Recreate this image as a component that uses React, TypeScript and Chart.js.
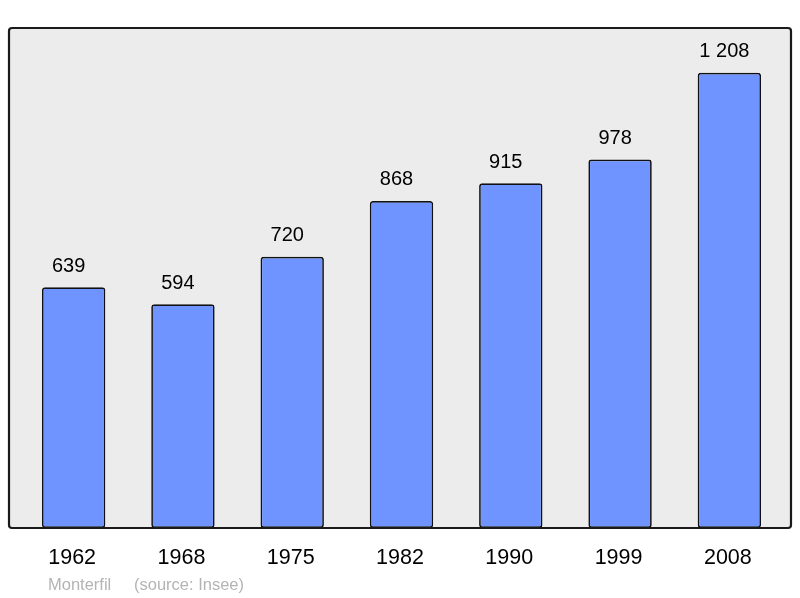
import React, { useEffect, useRef } from "react";
import { Chart, registerables } from "chart.js";

Chart.register(...registerables);

const years = ["1962", "1968", "1975", "1982", "1990", "1999", "2008"];
const population = [639, 594, 720, 868, 915, 978, 1208];
const valueLabels = ["639", "594", "720", "868", "915", "978", "1 208"];
const footerName = "Monterfil";
const footerSource = "(source: Insee)";

const framePlugin = {
  id: "frame",
  beforeDraw(chart: any) {
    const { ctx, chartArea } = chart;
    const l = chartArea.left - 10;
    const r = chartArea.right + 7;
    const t = chartArea.top;
    const b = chartArea.bottom;
    ctx.save();
    ctx.fillStyle = "#ececec";
    ctx.beginPath();
    ctx.roundRect(l, t, r - l, b - t, 3);
    ctx.fill();
    ctx.restore();
  },
  afterDatasetsDraw(chart: any) {
    const { ctx, chartArea, scales } = chart;
    const l = chartArea.left - 10;
    const r = chartArea.right + 7;
    const t = chartArea.top;
    const b = chartArea.bottom;
    ctx.save();
    ctx.strokeStyle = "#1a1a1a";
    ctx.lineWidth = 2.2;
    ctx.beginPath();
    ctx.roundRect(l, t, r - l, b - t, 3);
    ctx.stroke();

    const meta = chart.getDatasetMeta(0);
    ctx.fillStyle = "#000";
    ctx.textAlign = "center";
    ctx.textBaseline = "middle";
    ctx.font = "20px 'Liberation Sans', Arial, sans-serif";
    meta.data.forEach((bar: any, i: number) => {
      ctx.fillText(valueLabels[i], bar.x - 5, bar.y - 21);
    });
    ctx.font = "21.5px 'Liberation Sans', Arial, sans-serif";
    years.forEach((y, i) => {
      const x = scales.x.getPixelForValue(i);
      ctx.fillText(y, x - 1.5, b + 30);
    });
    ctx.fillStyle = "#b4b4b4";
    ctx.textAlign = "left";
    ctx.font = "16.5px 'Liberation Sans', Arial, sans-serif";
    ctx.fillText(footerName, 48, b + 57);
    ctx.fillText(footerSource, 134, b + 57);
    ctx.restore();
  },
};

export default function App() {
  const ref = useRef<HTMLCanvasElement>(null);
  useEffect(() => {
    document.body.style.margin = "0";
    const chart = new Chart(ref.current!, {
      type: "bar",
      data: {
        labels: years,
        datasets: [
          {
            data: population,
            backgroundColor: "#7094ff",
            borderColor: "#111",
            borderWidth: 1.7,
            borderRadius: 3,
            borderSkipped: false,
            categoryPercentage: 1,
            barPercentage: 0.58,
          },
        ],
      },
      options: {
        responsive: false,
        animation: false,
        layout: { padding: { left: 19, right: 16, top: 28, bottom: 70 } },
        plugins: { legend: { display: false }, tooltip: { enabled: false } },
        scales: {
          x: { display: false },
          y: { display: false, min: 0, max: 1327 },
        },
      },
      plugins: [framePlugin],
    });
    return () => chart.destroy();
  }, []);
  return <canvas ref={ref} width={800} height={598} style={{ display: "block" }} />;
}
